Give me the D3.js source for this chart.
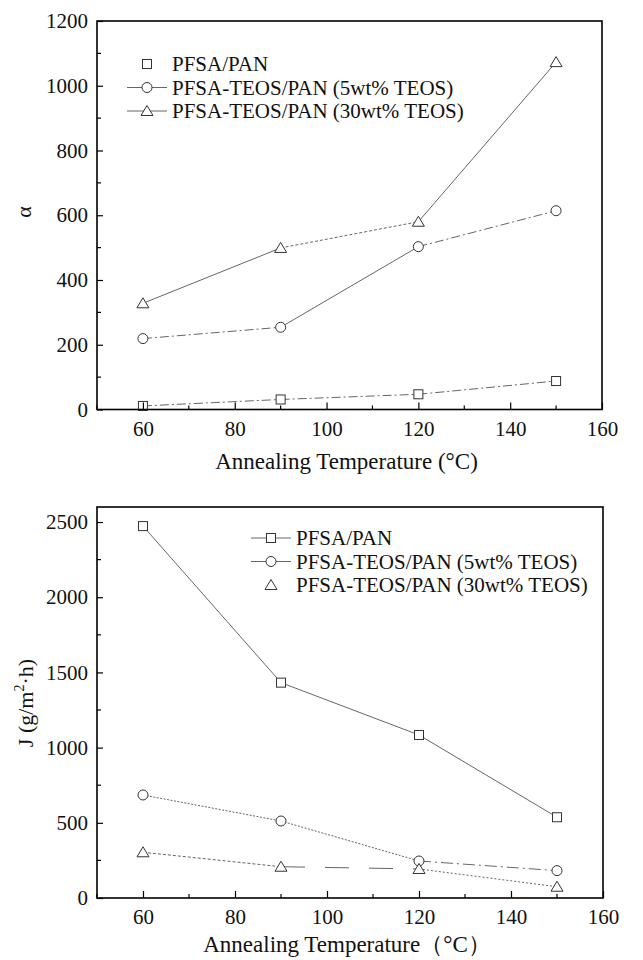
<!DOCTYPE html>
<html><head><meta charset="utf-8">
<script src="https://cdn.jsdelivr.net/npm/d3@7"></script>
<style>body{margin:0;background:#fff}svg{display:block}svg text{font-family:"Liberation Serif","Times New Roman",serif !important;fill:#111}</style>
</head><body><svg id="c" width="643" height="960"></svg>
<script>
// ---- data ----
const temps = [60, 90, 120, 150];
const seriesNames = ["PFSA/PAN", "PFSA-TEOS/PAN (5wt% TEOS)", "PFSA-TEOS/PAN (30wt% TEOS)"];
const alphaPFSA = [11, 31, 47, 88];
const alpha5 = [219, 254, 503, 614];
const alpha30 = [328, 499, 580, 1073];
const fluxPFSA = [2473, 1432, 1084, 537];
const flux5 = [685, 512, 246, 182];
const flux30 = [304, 208, 193, 75];
const xTicks = [60, 80, 100, 120, 140, 160];
const alphaTicks = [0, 200, 400, 600, 800, 1000, 1200];
const fluxTicks = [0, 500, 1000, 1500, 2000, 2500];

// ---- styles (per segment dash patterns) ----
const DD = "9,3,2,3", SOLID = null, DOT = "2,1.5", LDD = "12,4,2,4", DASH = "3,2", LONG = "24,20", DOT2 = "2,2";
const topSeg = [[DD, DD, DD], [DD, SOLID, DD], [SOLID, DASH, SOLID]];
const botSeg = [[SOLID, SOLID, SOLID], [DOT, DOT, LDD], [DASH, LONG, DOT2]];
const shapes = ["square", "circle", "triangle"];
const FONT = '"Liberation Serif","Times New Roman",serif';

const svg = d3.select("#c");

function marker(g, shape, x, y) {
  let el;
  if (shape === "square") el = g.append("rect").attr("x", x - 4.5).attr("y", y - 4.5).attr("width", 9).attr("height", 9);
  else if (shape === "circle") el = g.append("circle").attr("cx", x).attr("cy", y).attr("r", 5);
  else el = g.append("path").attr("d", `M${x},${y - 5.5}L${x + 6},${y + 4.5}L${x - 6},${y + 4.5}Z`);
  el.attr("fill", "#fff").attr("stroke", "#333").attr("stroke-width", 1);
}

function panel(opt) {
  const x = d3.scaleLinear().domain([50, 160]).range([opt.x0, opt.x1]);
  const y = d3.scaleLinear().domain(opt.ydom).range([opt.y0, opt.y1]);
  const g = svg.append("g");
  opt.series.forEach((vals, si) => {
    for (let i = 0; i < vals.length - 1; i++) {
      const p = g.append("line")
        .attr("x1", x(temps[i])).attr("y1", y(vals[i]))
        .attr("x2", x(temps[i + 1])).attr("y2", y(vals[i + 1]))
        .attr("stroke", "#666").attr("stroke-width", 1);
      if (opt.seg[si][i]) p.attr("stroke-dasharray", opt.seg[si][i]);
    }
  });
  opt.series.forEach((vals, si) => vals.forEach((v, i) => marker(g, shapes[si], x(temps[i]), y(v))));
  g.append("rect").attr("x", opt.x0).attr("y", opt.y1).attr("width", opt.x1 - opt.x0).attr("height", opt.y0 - opt.y1)
    .attr("fill", "none").attr("stroke", "#000").attr("stroke-width", 1.6);
  const xa = d3.axisBottom(x).tickValues(xTicks).tickSize(-7).tickPadding(opt.xPad).tickFormat(d3.format("d"));
  const gx = g.append("g").attr("transform", `translate(0,${opt.y0})`).call(xa);
  const xMinor = d3.range(50, 161, 10).filter(v => !xTicks.includes(v));
  g.selectAll(null).data(xMinor).enter().append("line")
    .attr("x1", d => x(d)).attr("x2", d => x(d)).attr("y1", opt.y0).attr("y2", opt.y0 - 4).attr("stroke", "#000").attr("stroke-width", 1.2);
  const ya = d3.axisLeft(y).tickValues(opt.yTicks).tickSize(-6).tickPadding(9).tickFormat(d3.format("d"));
  const gy = g.append("g").attr("transform", `translate(${opt.x0},0)`).call(ya);
  const step = opt.yTicks[1] - opt.yTicks[0];
  const yMinor = d3.range(step / 2, opt.ydom[1], step);
  g.selectAll(null).data(yMinor).enter().append("line")
    .attr("x1", opt.x0).attr("x2", opt.x0 + 4).attr("y1", d => y(d)).attr("y2", d => y(d)).attr("stroke", "#000").attr("stroke-width", 1.2);
  [gx, gy].forEach(a => {
    a.attr("font-family", FONT);
    a.select(".domain").remove();
    a.selectAll(".tick line").attr("stroke", "#000").attr("stroke-width", 1.2);
    a.selectAll(".tick text").attr("font-size", 21).style("font-family", FONT).attr("fill", "#111");
  });
  g.append("text").attr("x", (opt.x0 + opt.x1) / 2 + opt.xtOff).attr("y", opt.y0 + opt.titleOff).attr("text-anchor", "middle")
    .attr("font-size", 23).style("font-family", FONT).text(opt.xTitle);
  return {g, x, y};
}

const topPanel = panel({x0: 97, x1: 602, y0: 409.5, y1: 21, ydom: [0, 1200], yTicks: alphaTicks, xPad: 12, titleOff: 59,
  series: [alphaPFSA, alpha5, alpha30], seg: topSeg, xTitle: "Annealing Temperature (°C)", xtOff: -3});
topPanel.g.append("text").attr("transform", "translate(31,212) rotate(-90)").attr("text-anchor", "middle")
  .attr("font-size", 22).style("font-family", FONT).text("α");

const botPanel = panel({x0: 97, x1: 603, y0: 898, y1: 507, ydom: [0, 2600], yTicks: fluxTicks, xPad: 11, titleOff: 54,
  series: [fluxPFSA, flux5, flux30], seg: botSeg, xTitle: "Annealing Temperature（°C）", xtOff: -3});
const yl = botPanel.g.append("text").attr("transform", "translate(33,703) rotate(-90)").attr("text-anchor", "middle")
  .attr("font-size", 22).style("font-family", FONT);
yl.append("tspan").text("J (g/m");
yl.append("tspan").attr("dy", -9).attr("font-size", 14).text("2");
yl.append("tspan").attr("dy", 9).text("·h)");

function legend(g, x0, y0, withLine, gap) {
  seriesNames.forEach((n, i) => {
    const y = y0 + i * gap;
    if (withLine[i]) g.append("line").attr("x1", x0 - 20).attr("x2", x0 + 20).attr("y1", y).attr("y2", y).attr("stroke", "#666").attr("stroke-width", 1);
    marker(g, shapes[i], x0, y);
    g.append("text").attr("x", x0 + 25).attr("y", y + 7).attr("font-size", 21).style("font-family", FONT).text(n);
  });
}
legend(topPanel.g, 147, 64, [false, true, true], 23.5);
legend(botPanel.g, 271, 538, [true, true, false], 23.5);
</script></body></html>
